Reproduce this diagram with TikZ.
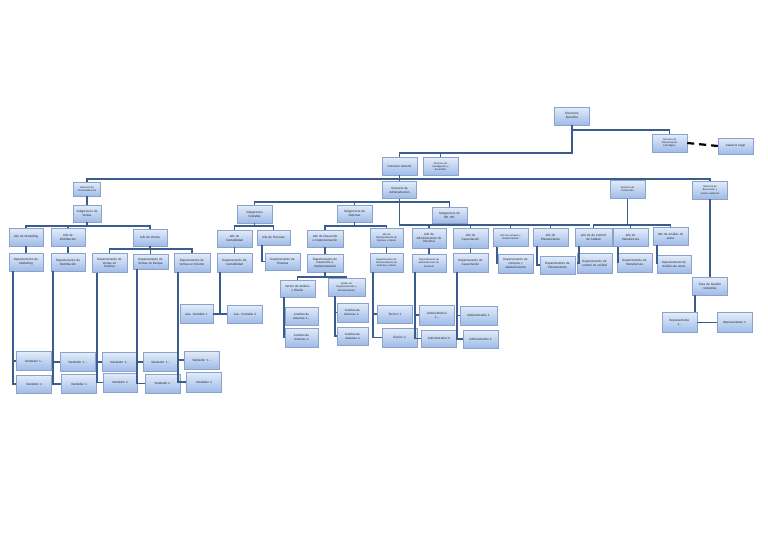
\documentclass[tikz,border=0pt]{standalone}
\usepackage{fontspec}
\setmainfont{Carlito}
\usetikzlibrary{shadows}
\definecolor{boxtop}{HTML}{E2ECFA}
\definecolor{boxbot}{HTML}{9FBBE8}
\definecolor{boxline}{HTML}{8AA2CC}
\definecolor{conncol}{HTML}{3A5D8D}
\begin{document}
\begin{tikzpicture}[x=1pt,y=-1pt,
  bx/.style={draw=boxline, line width=0.5pt, top color=boxtop, bottom color=boxbot,
    text width=34pt, minimum height=18pt, inner sep=0.5pt, align=center,
    font=\fontsize{3.3}{3.8}\selectfont, text=black!85,
    drop shadow={shadow xshift=0.8pt,shadow yshift=-0.9pt,fill=black!60,opacity=0.3}},
  sm/.style={font=\fontsize{2.7}{3.1}\selectfont},
  conn/.style={draw=conncol, line width=1.8pt},
  dsh/.style={draw=black, line width=2.2pt, dash pattern=on 7pt off 5pt}]
\useasboundingbox[fill=white] (0,0) rectangle (768,543);

% top levels
\node[bx] (dir) at (572,116) {Directorio\\Ejecutivo};
\node[bx,sm] (plan) at (669.5,143) {Gerencia de\\Planeamiento\\Estratégico};
\node[bx,minimum height=16pt] (ases) at (735.5,146) {Asesoría Legal};
\node[bx] (gg) at (399.5,166) {Gerencia General};
\node[bx,sm] (gid) at (440.5,166.5) {Gerencia de\\Investigación y\\desarrollo};

\node[bx,sm,text width=26pt,minimum height=14pt] (gcom) at (87,189) {Gerencia de\\Comercialización};
\node[bx,text width=33pt,minimum height=17pt] (gadm) at (399.5,190) {Gerencia de\\Administración};
\node[bx,sm] (gprod) at (627.5,189.5) {Gerencia de\\Producción};
\node[bx,sm] (grec) at (710,190) {Gerencia de\\Recreación y\\medio ambiente};

% subgerencias
\node[bx,text width=27pt,minimum height=17pt] (sven) at (87,213.5) {Subgerencia de\\Ventas};
\node[bx] (scon) at (254.5,214) {Subgerencia\\Contable};
\node[bx,minimum height=17pt] (ssis) at (354.5,213.5) {Subgerencia de\\Sistemas};
\node[bx,minimum height=16pt] (srh) at (449.5,215) {Subgerencia de\\RR. HH.};

% jefes
\node[bx,text width=33pt] (jmk) at (26,237) {Jefe de Marketing};
\node[bx,text width=33pt] (jdis) at (68,237.5) {Jefe de\\Distribución};
\node[bx,text width=33pt,minimum height=17pt] (jven) at (150,237.5) {Jefe de Ventas};
\node[bx,minimum height=17pt] (jcont) at (234.5,238.5) {Jefe de\\Contabilidad};
\node[bx,text width=32pt,minimum height=15pt] (jfin) at (273.5,237.5) {Jefe de Finanzas};
\node[bx,text width=35pt,minimum height=17pt] (jdes) at (325,238.5) {Jefe de Desarrollo\\e Implementación};
\node[bx,sm,text width=32pt,minimum height=19pt] (jman) at (386.5,237.5) {Jefe de\\Mantenimiento de\\Sistemas y Redes};
\node[bx,text width=33pt,minimum height=20pt] (jadp) at (429,238) {Jefe de\\Administración de\\Personal};
\node[bx,minimum height=20pt] (jcap) at (470.5,238) {Jefe de\\Capacitación};
\node[bx,sm] (jcom) at (510.5,237.5) {Jefe de compras y\\abastecimiento};
\node[bx] (jpla) at (550.5,237) {Jefe de\\Planeamiento};
\node[bx,text width=36pt] (jcal) at (593.5,237) {Jefe de de Control\\de Calidad};
\node[bx] (jmanu) at (630.5,237.5) {Jefe de\\Manufactura};
\node[bx] (jaut) at (670.5,236) {Jefe de Análisis de\\autos};

% departamentos
\node[bx,text width=33pt] (dmk) at (26,262) {Departamento de\\Marketing};
\node[bx,text width=33pt] (ddis) at (68,262) {Departamento de\\Distribución};
\node[bx,minimum height=19pt] (dame) at (109.5,263) {Departamento de\\Ventas en\\América};
\node[bx,minimum height=15pt] (deur) at (150.5,261.5) {Departamento de\\Ventas en Europa};
\node[bx,text width=35pt,minimum height=19pt] (dori) at (192,262.5) {Departamento de\\Ventas en Oriente};
\node[bx,minimum height=19pt] (dcont) at (234.5,262.5) {Departamento de\\Contabilidad};
\node[bx,minimum height=17pt] (dfin) at (282.5,261.5) {Departamento de\\Finanzas};
\node[bx,text width=35pt] (ddes) at (325,263) {Departamento de\\Desarrollo e\\Implementación};
\node[bx,sm,text width=32pt,minimum height=19pt] (dman) at (386.5,262.5) {Departamento de\\Mantenimiento de\\Sistemas y Redes};
\node[bx,sm,text width=33pt] (dadp) at (429,263) {Departamento de\\Administración de\\Personal};
\node[bx,minimum height=19pt] (dcap) at (470.5,262.5) {Departamento de\\Capacitación};
\node[bx,minimum height=19pt] (dcom) at (515.5,263.5) {Departamento de\\compras y\\abastecimiento};
\node[bx] (dpla) at (557.5,265) {Departamento de\\Planeamiento};
\node[bx,minimum height=20pt] (dcal) at (594.5,263) {Departamento de\\control de calidad};
\node[bx,minimum height=19pt] (dmanu) at (634.5,262.5) {Departamento de\\Manufactura};
\node[bx,text width=33pt] (daut) at (674,264) {Departamento de\\Análisis de autos};

% sistemas
\node[bx,minimum height=17pt] (sec) at (297.5,288.5) {Sector de Análisis\\y Diseño};
\node[bx,sm,text width=36pt] (ges) at (346.5,287) {Gestor de\\Implementación y\\Mantenimiento};
\node[bx,text width=32pt] (an1) at (301.5,316) {Analista de\\sistemas 1...};
\node[bx,text width=32pt,minimum height=19pt] (ann) at (301.5,337.5) {Analista de\\sistemas n};
\node[bx,text width=30pt,minimum height=19pt] (ag1) at (352.5,312.5) {Analista de\\sistemas 1...};
\node[bx,text width=30pt] (agn) at (352.5,336) {Analista de\\sistemas n};
\node[bx] (tec1) at (395,314) {Técnico 1};
\node[bx,minimum height=19pt] (tec2) at (399.5,337.5) {Técnico 2};
\node[bx,minimum height=20pt] (adm1) at (437,315) {Administrativo\\1...};
\node[bx,minimum height=17pt] (admii) at (439,338.5) {Administrativo II};
\node[bx,text width=36pt,minimum height=19pt] (cap1) at (478.5,315.5) {Administrativo 1};
\node[bx] (cap2) at (480.5,339) {Administrativo 2};

% contabilidad
\node[bx,text width=32pt,minimum height=19pt] (aux1) at (196.5,314) {Aux. Contable 1};
\node[bx] (aux2) at (245,314) {Aux. Contable 2};

% recreacion
\node[bx] (area) at (710,286) {Área de Gestión\\Industrial};
\node[bx,minimum height=20pt] (rep1) at (679.5,322.5) {Representante\\1...};
\node[bx,minimum height=20pt] (repn) at (734.5,322.5) {Representante n};

% vendedores
\node[bx,minimum height=19pt] (v1a) at (34,361) {Vendedor 1...};
\node[bx] (vna) at (34,384) {Vendedor n};
\node[bx,minimum height=19pt] (v1b) at (77.5,362) {Vendedor 1...};
\node[bx,minimum height=19pt] (vnb) at (79,384) {Vendedor n};
\node[bx,text width=33pt,minimum height=19pt] (v1c) at (119.5,362) {Vendedor 1...};
\node[bx,text width=33pt,minimum height=19pt] (vnc) at (120,382.5) {Vendedor n};
\node[bx,minimum height=19pt] (v1d) at (160.5,362) {Vendedor 1...};
\node[bx,minimum height=19pt] (vnd) at (162.5,383.5) {Vendedor n};
\node[bx] (v1e) at (201.5,360) {Vendedor 1...};
\node[bx,minimum height=20pt] (vne) at (204,382) {Vendedor n};

% ---------- connectors ----------
\draw[conn] (dir.south) -- (dir.south |- 0,130) -| (plan.north);
\draw[conn] (dir.south) -- (dir.south |- 0,153) -| (gg.north);
\draw[conn] (gid.north) -- (gid.north |- 0,153);
\draw[dsh] (plan.east) -- (ases.west);

\draw[conn] (gcom.north) |- (grec.north |- 0,179) -- (grec.north);
\draw[conn] (gg.south) -- (gadm.north);
\draw[conn] (gprod.north) -- (gprod.north |- 0,179);

% comercializacion
\draw[conn] (gcom.south) -- (sven.north);
\draw[conn] (jmk.north) |- (jven.north |- 0,226) -- (jven.north);
\draw[conn] (sven.south) -- (sven.south |- 0,226);
\draw[conn] (jdis.north) -- (jdis.north |- 0,226);
\draw[conn] (jmk.south) -- (dmk.north);
\draw[conn] (jdis.south) -- (ddis.north);
\draw[conn] (dame.north) |- (dori.north |- 0,249) -- (dori.north);
\draw[conn] (jven.south) -- (jven.south |- 0,249);
\draw[conn] (deur.north) -- (deur.north |- 0,249);

% vendedores
\draw[conn] ([xshift=4pt]dmk.south west) |- (v1a.west);
\draw[conn] ([xshift=4pt]dmk.south west) |- (vna.west);
\draw[conn] ([xshift=2pt]ddis.south west) |- (v1b.west);
\draw[conn] ([xshift=2pt]ddis.south west) |- (vnb.west);
\draw[conn] ([xshift=5pt]dame.south west) |- (v1c.west);
\draw[conn] ([xshift=5pt]dame.south west) |- (vnc.west);
\draw[conn] ([xshift=4pt]deur.south west) |- (v1d.west);
\draw[conn] ([xshift=4pt]deur.south west) |- (vnd.west);
\draw[conn] ([xshift=4pt]dori.south west) |- (v1e.west);
\draw[conn] ([xshift=4pt]dori.south west) |- (vne.west);

% administracion
\draw[conn] (scon.north) |- (srh.north |- 0,202) -- (srh.north);
\draw[conn] (ssis.north) -- (ssis.north |- 0,202);
\coordinate (rhend) at (590,225);
\draw[conn] (gadm.south) |- (rhend);
\draw[conn] (jadp.north) -- (jadp.north |- rhend);
\draw[conn] (jcap.north) -- (jcap.north |- rhend);
\draw[conn] (jcom.north) -- (jcom.north |- rhend);
\draw[conn] (jpla.north) -- (jpla.north |- rhend);

% contable
\draw[conn] (jcont.north) |- (jfin.north |- 0,226) -- (jfin.north);
\draw[conn] (scon.south) -- (scon.south |- 0,226);
\draw[conn] (jcont.south) -- (dcont.north);
\draw[conn] ([xshift=5pt]jfin.south west) |- (dfin.west);
\draw[conn] (aux1.east) -| ([xshift=3pt]dcont.south west);
\draw[conn] ([xshift=3pt]dcont.south west) |- (aux2.west);

% sistemas
\draw[conn] (jdes.north) |- (jman.north |- 0,226) -- (jman.north);
\draw[conn] (ssis.south) -- (ssis.south |- 0,226);
\draw[conn] (jdes.south) -- (ddes.north);
\draw[conn] (jman.south) -- (dman.north);
\draw[conn] (sec.north) |- (ges.north |- 0,277) -- (ges.north);
\draw[conn] (ddes.south) -- (ddes.south |- 0,277);
\draw[conn] ([xshift=4pt]sec.south west) |- (an1.west);
\draw[conn] ([xshift=4pt]sec.south west) |- (ann.west);
\draw[conn] ([xshift=7pt]ges.south west) |- (ag1.west);
\draw[conn] ([xshift=7pt]ges.south west) |- (agn.west);
\draw[conn] ([xshift=3pt]dman.south west) |- (tec1.west);
\draw[conn] ([xshift=3pt]dman.south west) |- (tec2.west);

% rr.hh.
\draw[conn] (jadp.south) -- (dadp.north);
\draw[conn] (jcap.south) -- (dcap.north);
\draw[conn] ([xshift=3pt]dadp.south west) |- (adm1.west);
\draw[conn] ([xshift=3pt]dadp.south west) |- (admii.west);
\draw[conn] ([xshift=4pt]dcap.south west) |- (cap1.west);
\draw[conn] ([xshift=4pt]dcap.south west) |- (cap2.west);
\draw[conn] ([xshift=4pt]jcom.south west) |- (dcom.west);
\draw[conn] ([xshift=4pt]jpla.south west) |- (dpla.west);

% produccion
\draw[conn] (jcal.north) |- (jaut.north |- 0,225) -- (jaut.north);
\draw[conn] (gprod.south) -- (gprod.south |- 0,225);
\draw[conn] (jmanu.north) -- (jmanu.north |- 0,225);
\draw[conn] ([xshift=4pt]jcal.south west) |- (dcal.west);
\draw[conn] ([xshift=5pt]jmanu.south west) |- (dmanu.west);
\draw[conn] ([xshift=4pt]jaut.south west) |- (daut.west);

% recreacion
\draw[conn] (grec.south) -- (area.north);
\coordinate (arv) at ([xshift=2.5pt]area.south west);
\draw[conn] (arv) -- (arv |- rep1.north);
\draw[conn] (rep1.east) -- (repn.west);
\end{tikzpicture}
\end{document}
